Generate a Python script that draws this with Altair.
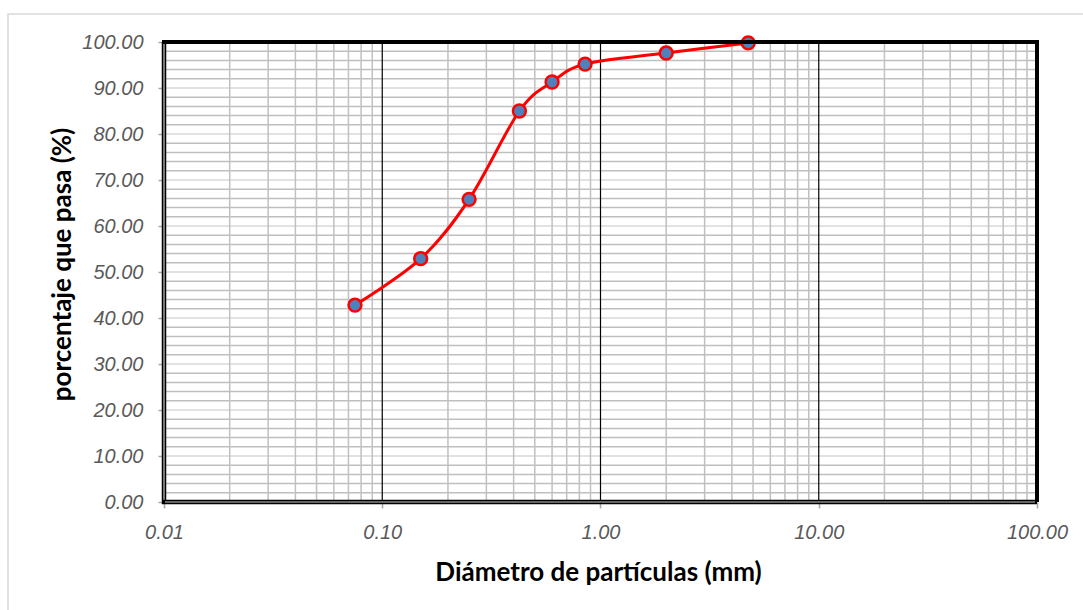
import altair as alt
import pandas as pd

# Data
diametro = [4.75, 2.00, 0.850, 0.600, 0.425, 0.250, 0.150, 0.075]
pasa = [99.8, 97.6, 95.2, 91.3, 85.0, 65.8, 52.9, 42.8]

x_ticks = [0.01, 0.1, 1, 10, 100]
y_ticks = [0, 10, 20, 30, 40, 50, 60, 70, 80, 90, 100]
y_minor = [v for v in range(2, 100, 2) if v % 10 != 0]
y_major = [10, 20, 30, 40, 50, 60, 70, 80, 90]
x_minor = [m * d for d in (0.01, 0.1, 1, 10) for m in range(2, 10)]
x_major = [0.1, 1, 10]

W, H = 873, 460
LABEL_FONT = "Liberation Sans"
TITLE_FONT = "Lato"
LABEL_SIZE = 20
TITLE_SIZE = 26

xscale = alt.Scale(type="log", domain=[0.01, 100], nice=False)
yscale = alt.Scale(domain=[0, 100], nice=False)

df = pd.DataFrame({"d": diametro, "p": pasa, "o": list(range(len(diametro)))})
one = pd.DataFrame({"k": [0]})

xaxis = alt.Axis(
    values=x_ticks, format=".2f", grid=False, domain=False,
    tickColor="#A6A6A6", tickWidth=1.5, tickSize=6,
    labelFont=LABEL_FONT, labelFontSize=LABEL_SIZE, labelFontStyle="italic", labelColor="#595959",
    labelPadding=14, labelFlush=False, labelOverlap=False,
    title="Diámetro de partículas (mm)", titleFont=TITLE_FONT, titleFontSize=TITLE_SIZE,
    titleFontWeight="bold", titleColor="#000000", titleBaseline="alphabetic",
    titleY=78, titleX=434,
)
yaxis = alt.Axis(
    values=y_ticks, format=".2f", grid=False, domain=False,
    tickColor="#A6A6A6", tickWidth=1.5, tickSize=6,
    labelFont=LABEL_FONT, labelFontSize=LABEL_SIZE, labelFontStyle="italic", labelColor="#595959",
    labelPadding=15, labelFlush=False, labelOverlap=False,
    title="porcentaje que pasa (%)", titleFont=TITLE_FONT, titleFontSize=TITLE_SIZE,
    titleFontWeight="bold", titleColor="#000000", titleBaseline="alphabetic",
    titleAngle=270, titleX=-94, titleY=222,
)

frame = alt.Chart(one).mark_rect(filled=False, stroke="#D9D9D9", strokeWidth=1.5).encode(
    x=alt.value(-156), x2=alt.value(1000), y=alt.value(-28), y2=alt.value(700)
)

ymin = alt.Chart(pd.DataFrame({"y": y_minor})).mark_rule(color="#BFBFBF", strokeWidth=1.5).encode(
    y=alt.Y("y:Q", scale=yscale, axis=yaxis)
)
ymaj = alt.Chart(pd.DataFrame({"y": y_major})).mark_rule(color="#D9D9D9", strokeWidth=1.5).encode(
    y=alt.Y("y:Q", scale=yscale, axis=yaxis)
)
xmin = alt.Chart(pd.DataFrame({"x": x_minor})).mark_rule(color="#C0C0C0", strokeWidth=1.5).encode(
    x=alt.X("x:Q", scale=xscale, axis=xaxis)
)
xmaj = alt.Chart(pd.DataFrame({"x": x_major})).mark_rule(color="#000000", strokeWidth=1.2).encode(
    x=alt.X("x:Q", scale=xscale, axis=xaxis)
)

# plot borders
top = alt.Chart(one).mark_rule(color="black", strokeWidth=4).encode(
    x=alt.value(-2), x2=alt.value(W + 2), y=alt.value(0)
)
right = alt.Chart(one).mark_rule(color="black", strokeWidth=4).encode(
    x=alt.value(W), y=alt.value(-2), y2=alt.value(H)
)
left_o = alt.Chart(one).mark_rule(color="black", strokeWidth=4.5).encode(
    x=alt.value(0), y=alt.value(0), y2=alt.value(H + 2)
)
left_i = alt.Chart(one).mark_rule(color="#C8C8C8", strokeWidth=1.2).encode(
    x=alt.value(0), y=alt.value(2), y2=alt.value(H - 1)
)
bot_o = alt.Chart(one).mark_rule(color="black", strokeWidth=4.5).encode(
    x=alt.value(-2), x2=alt.value(W), y=alt.value(H)
)
bot_i = alt.Chart(one).mark_rule(color="#C8C8C8", strokeWidth=1.2).encode(
    x=alt.value(1), x2=alt.value(W - 2), y=alt.value(H)
)

line = alt.Chart(df).mark_line(color="#FF0000", strokeWidth=3, interpolate="cardinal").encode(
    x=alt.X("d:Q", scale=xscale, axis=xaxis),
    y=alt.Y("p:Q", scale=yscale, axis=yaxis),
    order="o:Q",
)
pts = alt.Chart(df).mark_point(
    filled=True, shape="circle", size=165, fill="#4F81BD", stroke="#FF0000",
    strokeWidth=2.5, opacity=1,
).encode(
    x=alt.X("d:Q", scale=xscale, axis=xaxis),
    y=alt.Y("p:Q", scale=yscale, axis=yaxis),
)

chart = alt.layer(
    frame, ymaj, ymin, xmin, xmaj, line, pts, top, right, left_o, left_i, bot_o, bot_i
).properties(
    width=W, height=H,
    autosize=alt.AutoSizeParams(type="none"),
    padding={"left": 164, "top": 42, "right": 46, "bottom": 108},
    background="white",
).configure_view(stroke=None)

chart.save("out.html", embed_options={"renderer": "svg", "actions": False})
